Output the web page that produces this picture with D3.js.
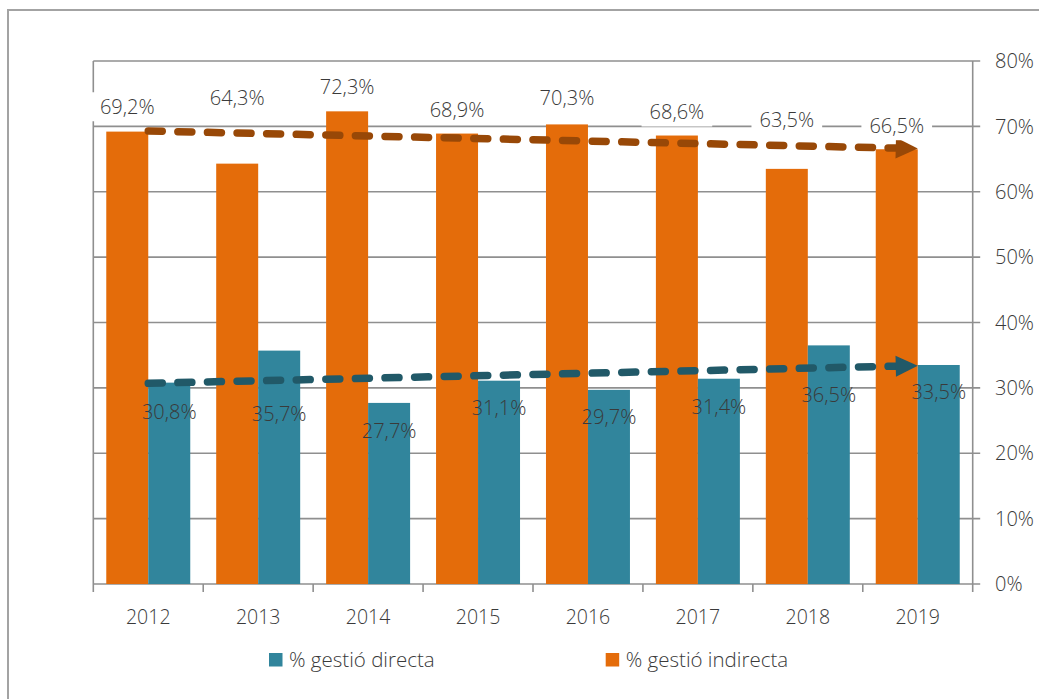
<!DOCTYPE html>
<html>
<head>
<meta charset="utf-8">
<script src="https://cdn.jsdelivr.net/npm/d3@7"></script>
<style>
  html, body { margin: 0; padding: 0; background: #fff; }
  svg { display: block; font-family: "Open Sans", "Noto Sans", sans-serif; font-weight: 350; }
</style>
</head>
<body>
<svg id="chart" width="1039" height="699"></svg>
<script>
// ---- data ----
const years = ["2012", "2013", "2014", "2015", "2016", "2017", "2018", "2019"];
const directa = [30.8, 35.7, 27.7, 31.1, 29.7, 31.4, 36.5, 33.5];
const indirecta = [69.2, 64.3, 72.3, 68.9, 70.3, 68.6, 63.5, 66.5];
const yTicks = [0, 10, 20, 30, 40, 50, 60, 70, 80];
// linear trend lines (start value at first year, end value at last year)
const trendDirecta = [30.7, 33.4];
const trendIndirecta = [69.3, 66.6];
// where the data labels sit, in value units (as placed in the picture)
const labelAtDirecta = [26.3, 26.0, 23.5, 26.9, 25.5, 27.1, 29.0, 29.4];
const labelAtIndirecta = [73.0, 74.3, 76.0, 72.5, 74.3, 72.2, 71.05, 70.1];
const seriesNames = ["% gestió directa", "% gestió indirecta"];

// ---- styles ----
const cOrange = "#E46C0A", cBlue = "#31859C";
const cOrangeTrend = "#984807", cBlueTrend = "#215968";
const cGrid = "#8f8f8f", cText = "#3a3a3a";

const svg = d3.select("#chart");
const L = 93.3, R = 972.7, T = 61, B = 584;

const x = d3.scaleBand().domain(years).range([L, R]).padding(0);
const y = d3.scaleLinear().domain([0, 80]).range([B, T]);
const bw = x.bandwidth();
const barW = bw * 0.382, off = bw * 0.118;

const loc = d3.formatLocale({decimal: ",", thousands: ".", grouping: [3], currency: ["", "€"]});
const fmt = v => loc.format(".1f")(v) + "%";

// outer border
svg.append("path")
  .attr("d", "M8,710 L8,10 L1045,10")
  .attr("fill", "none").attr("stroke", "#a3a3a3").attr("stroke-width", 2);

// gridlines + right ticks
svg.append("g").selectAll("line").data(yTicks).join("line")
  .attr("x1", L).attr("x2", R + 7.5)
  .attr("y1", d => y(d)).attr("y2", d => y(d))
  .attr("stroke", cGrid).attr("stroke-width", 1.6);

// left & right vertical lines
svg.append("line").attr("x1", L).attr("x2", L).attr("y1", T).attr("y2", B + 8)
  .attr("stroke", cGrid).attr("stroke-width", 1.6);
svg.append("line").attr("x1", R).attr("x2", R).attr("y1", T).attr("y2", B + 8)
  .attr("stroke", cGrid).attr("stroke-width", 1.6);

// bottom ticks at band boundaries
svg.append("g").selectAll("line").data(years.slice(1)).join("line")
  .attr("x1", d => x(d)).attr("x2", d => x(d))
  .attr("y1", B).attr("y2", B + 8)
  .attr("stroke", cGrid).attr("stroke-width", 1.6);

// right axis labels
svg.append("g").selectAll("text").data(yTicks).join("text")
  .attr("x", 995).attr("y", d => y(d)).attr("dy", "0.36em")
  .attr("fill", cText).attr("font-size", 20)
  .text(d => d + "%");

// year labels
svg.append("g").selectAll("text").data(years).join("text")
  .attr("x", d => x(d) + bw / 2).attr("y", 624)
  .attr("text-anchor", "middle").attr("fill", cText).attr("font-size", 19.5)
  .text(d => d);

// bars
svg.append("g").selectAll("rect").data(years).join("rect")
  .attr("x", d => x(d) + off).attr("width", barW)
  .attr("y", (d, i) => y(indirecta[i])).attr("height", (d, i) => B - y(indirecta[i]))
  .attr("fill", cOrange);
svg.append("g").selectAll("rect").data(years).join("rect")
  .attr("x", d => x(d) + off + barW).attr("width", barW)
  .attr("y", (d, i) => y(directa[i])).attr("height", (d, i) => B - y(directa[i]))
  .attr("fill", cBlue);

// trend arrows
function trend(vals, color) {
  const x0 = x(years[0]) + bw / 2, x1 = x(years[years.length - 1]) + bw / 2;
  const y0 = y(vals[0]), y1 = y(vals[1]);
  const ang = Math.atan2(y1 - y0, x1 - x0);
  const headL = 22, headW = 10.5;
  const bx = x1 - headL * Math.cos(ang), by = y1 - headL * Math.sin(ang);
  svg.append("line")
    .attr("x1", x0).attr("y1", y0).attr("x2", bx).attr("y2", by)
    .attr("stroke", color).attr("stroke-width", 7.5)
    .attr("stroke-linecap", "round").attr("stroke-dasharray", "14,15.6");
  const px = -Math.sin(ang), py = Math.cos(ang);
  svg.append("path")
    .attr("d", `M${x1},${y1} L${bx + px * headW},${by + py * headW} L${bx - px * headW},${by - py * headW} Z`)
    .attr("fill", color);
}
trend(trendIndirecta, cOrangeTrend);
trend(trendDirecta, cBlueTrend);

// orange data labels (with white box)
const gi = svg.append("g");
years.forEach((yr, i) => {
  const cx = x(yr) + off + barW / 2, cy = y(labelAtIndirecta[i]);
  const t = gi.append("text")
    .attr("x", cx).attr("y", cy).attr("dy", "0.36em")
    .attr("text-anchor", "middle").attr("fill", cText).attr("font-size", 20)
    .text(fmt(indirecta[i]));
  const bb = t.node().getBBox();
  gi.insert("rect", "text")
    .attr("x", bb.x - 8).attr("width", bb.width + 16)
    .attr("y", cy - 14.5).attr("height", 29)
    .attr("fill", "#fff");
});

// blue data labels
svg.append("g").selectAll("text").data(years).join("text")
  .attr("x", d => x(d) + off + barW * 1.5)
  .attr("y", (d, i) => y(labelAtDirecta[i])).attr("dy", "0.36em")
  .attr("text-anchor", "middle").attr("fill", cText).attr("font-size", 20)
  .text((d, i) => fmt(directa[i]));

// legend
const leg = [{x: 269, c: cBlue}, {x: 605.7, c: cOrange}];
leg.forEach((l, i) => {
  svg.append("rect").attr("x", l.x).attr("y", 653).attr("width", 13.5).attr("height", 13.5).attr("fill", l.c);
  svg.append("text").attr("x", l.x + 20).attr("y", 666.5)
    .attr("fill", cText).attr("font-size", 20.5).text(seriesNames[i]);
});
</script>
</body>
</html>
